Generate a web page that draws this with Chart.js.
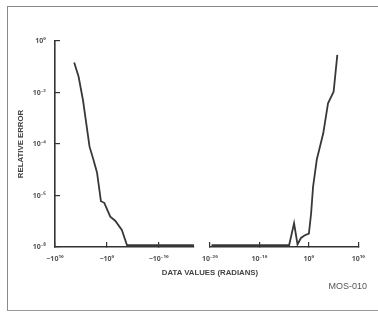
<!DOCTYPE html>
<html><head><meta charset="utf-8">
<script src="https://cdn.jsdelivr.net/npm/chart.js@4"></script>
<style>
html,body{margin:0;padding:0;background:#fff;}
#wrap{position:relative;width:378px;height:313px;overflow:hidden;background:#fff;font-family:"Liberation Sans",Arial,sans-serif;}
canvas{position:absolute;left:0;top:0;}
#frame{position:absolute;left:7px;top:6px;width:380px;height:303px;border-left:1px solid #8a8a8a;border-top:1px solid #8a8a8a;border-bottom:1px solid #9a9a9a;}
#xt{position:absolute;left:110px;width:200px;top:268px;text-align:center;font-weight:bold;font-size:7.8px;color:#444;}
#mos{position:absolute;right:11px;top:281px;font-size:9px;color:#555;}
</style>
</head><body>
<div id="wrap">
<div id="frame"></div>
<canvas id="cl" width="378" height="313"></canvas>
<canvas id="cr" width="378" height="313"></canvas>
<div id="xt">DATA VALUES (RADIANS)</div>
<div id="mos">MOS-010</div>
</div>
<script>
// Negative data values (radians) and their relative error
const leftX   = [-2.0e6, -2.8e5, -4.0e4, -2.2e3, -400, -80, -14, -3.2, -0.22, -0.025, -1.3e-3, -1.3e-4, -1.6e-17];
const leftErr = [0.145, 0.041, 5.0e-3, 7.9e-5, 2.5e-5, 7.9e-6, 6.0e-7, 5.2e-7, 1.5e-7, 1.05e-7, 4.6e-8, 1.17e-8, 1.17e-8];
// Positive data values (radians) and their relative error
const rightX   = [2e-20, 1e-4, 1e-3, 5e-3, 0.025, 0.126, 1, 2.8, 7, 40, 800, 7400, 1e5, 5.6e5];
const rightErr = [1.17e-8, 1.17e-8, 8.3e-8, 1.26e-8, 2.24e-8, 2.8e-8, 3.3e-8, 2e-7, 2.2e-6, 2.5e-5, 2.6e-4, 3.8e-3, 0.0107, 0.29];
// Tick values
const yTicks = [1, 1e-2, 1e-4, 1e-6, 1e-8];
const leftTicks = [-1e10, -1, -1e-10];
const rightTicks = [1e-20, 1e-10, 1, 1e10];
const leftRange = [-1e10, -1.6e-17];
const rightRange = [1e-20, 1e10];
const yRange = [1e-8, 1];

const SUP = {'-':'\u207B','0':'\u2070','1':'\u00B9','2':'\u00B2','3':'\u00B3','4':'\u2074','5':'\u2075','6':'\u2076','7':'\u2077','8':'\u2078','9':'\u2079'};
const sup = n => String(n).split('').map(c => SUP[c] || c).join('');
const expOf = v => Math.round(Math.log10(Math.abs(v)));

const INK = '#333';
const tickFont = {family: '"Noto Sans", "DejaVu Sans", sans-serif', size: 7, weight: 'bold'};
const gridOpts = {display: true, drawOnChartArea: false, drawTicks: true, tickLength: -5, color: INK, lineWidth: 1.2};
const borderOpts = {display: true, color: INK, width: 1.6};

function yScale(show) {
  return {
    type: 'logarithmic', display: show, min: yRange[0], max: yRange[1], bounds: 'data',
    afterBuildTicks: s => { s.ticks = yTicks.map(v => ({value: v})); },
    afterFit: s => { if (show) s.width = 55; },
    grid: gridOpts, border: borderOpts,
    ticks: {font: tickFont, color: '#555', padding: 14, callback: v => '10' + sup(expOf(v))},
    title: {display: true, text: 'RELATIVE ERROR', color: '#444', padding: {top: 16, bottom: 0},
            font: {family: '"Liberation Sans", Arial, sans-serif', size: 7.8, weight: 'bold'}}
  };
}

function makeChart(id, xs, ys, xOpts, pad, showY) {
  return new Chart(document.getElementById(id), {
    type: 'line',
    data: {datasets: [{
      data: xs.map((x, i) => ({x: x, y: ys[i]})),
      borderColor: '#383838', borderWidth: 1.8, pointRadius: 0, tension: 0, fill: false
    }]},
    options: {
      responsive: false, animation: false, devicePixelRatio: 1,
      layout: {padding: pad},
      plugins: {legend: {display: false}, tooltip: {enabled: false}},
      scales: {x: xOpts, y: yScale(showY)}
    }
  });
}

// Left panel: magnitudes of negative values, reversed log axis
makeChart('cl', leftX.map(v => -v), leftErr, {
  type: 'logarithmic', reverse: true, bounds: 'data',
  min: -leftRange[1], max: -leftRange[0],
  afterBuildTicks: s => { s.ticks = leftTicks.map(v => ({value: -v})); },
  afterFit: s => { s.height = 66; },
  grid: gridOpts, border: borderOpts,
  ticks: {font: tickFont, color: '#555', padding: 13, maxRotation: 0, autoSkip: false,
          callback: v => '\u221210' + sup(expOf(v))}
}, {left: 0, right: 184, top: 41, bottom: 0}, true);

// Right panel: positive values
makeChart('cr', rightX, rightErr, {
  type: 'logarithmic', bounds: 'data',
  min: rightRange[0], max: rightRange[1],
  afterBuildTicks: s => { s.ticks = rightTicks.map(v => ({value: v})); },
  afterFit: s => { s.height = 66; },
  grid: gridOpts, border: borderOpts,
  ticks: {font: tickFont, color: '#555', padding: 13, maxRotation: 0, autoSkip: false,
          callback: v => '10' + sup(expOf(v))}
}, {left: 210, right: 13, top: 41, bottom: 0}, false);
</script>
</body></html>
